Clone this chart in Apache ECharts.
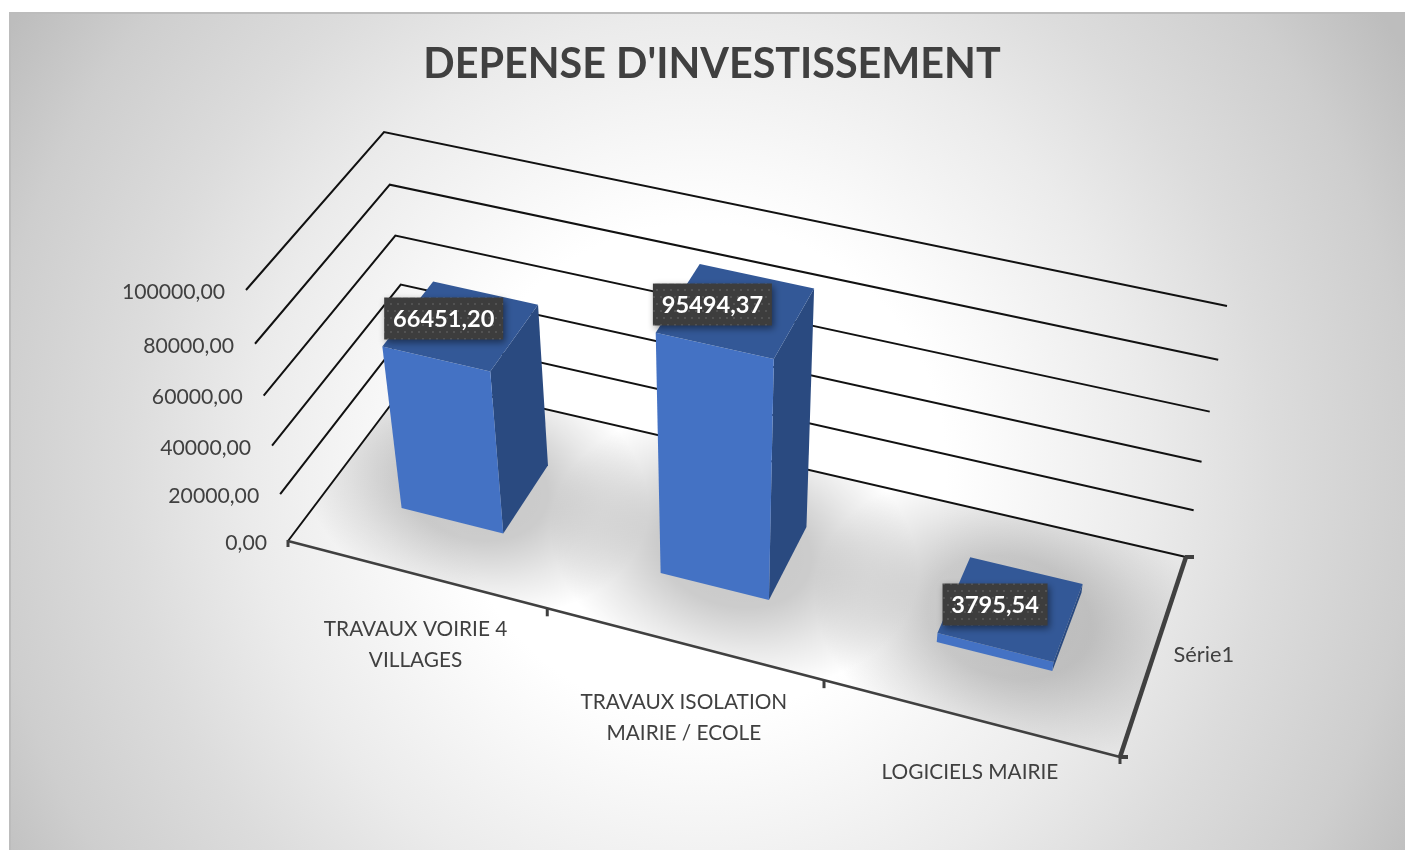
<!DOCTYPE html>
<html>
<head>
<meta charset="utf-8">
<style>
  html, body { margin: 0; padding: 0; background: #fff; }
  #chart { width: 1405px; height: 850px; }
</style>
<script src="https://cdn.jsdelivr.net/npm/echarts@6/dist/echarts.min.js"></script>
</head>
<body>
<div id="chart"></div>
<script>
const titleText = "DEPENSE D'INVESTISSEMENT"
const categories = ['TRAVAUX VOIRIE 4\nVILLAGES', 'TRAVAUX ISOLATION\nMAIRIE / ECOLE', 'LOGICIELS MAIRIE']
const seriesName = 'Série1'
const values = [66451.2, 95494.37, 3795.54]
const yTicks = [0, 20000, 40000, 60000, 80000, 100000]

const FONT = 'Lato'
const TEXT_COLOR = '#404040'

// camera: where the floor and the ceiling of the unit box land on the screen
const floorQuad = [[288, 541], [1120, 757], [1186, 557], [411, 378]]
const topQuad = [[246, 290], [1160, 498], [1227, 306], [384, 132]]
const HEIGHT_PERSPECTIVE = 1.09
const U_NUDGE = 0.018
const BAR_WIDTH = 0.4
const BAR_DEPTH = [0.3, 0.7]

// small hand offsets, excel places these a bit unevenly
const catLabelOffset = [[0, 40], [0.5, 43], [0.5, 39]]
const dataLabelOffset = [[-16.5, -7], [-22.5, -6], [-15, -4]]

function quadMap(q) {
  const [[x0, y0], [x1, y1], [x2, y2], [x3, y3]] = q
  const sx = x0 - x1 + x2 - x3
  const sy = y0 - y1 + y2 - y3
  const dx1 = x1 - x2, dx2 = x3 - x2, dy1 = y1 - y2, dy2 = y3 - y2
  const den = dx1 * dy2 - dx2 * dy1
  const g = (sx * dy2 - dx2 * sy) / den
  const h = (dx1 * sy - sx * dy1) / den
  const a = x1 - x0 + g * x1, b = x3 - x0 + h * x3
  const d = y1 - y0 + g * y1, e = y3 - y0 + h * y3
  return (u, v) => {
    const w = g * u + h * v + 1
    return [(a * u + b * v + x0) / w, (d * u + e * v + y0) / w]
  }
}
const floorMap = quadMap(floorQuad)
const topMap = quadMap(topQuad)

// u along the categories, d into the depth, h up the value axis, all 0..1
function project(u, d, h) {
  const s = h / (h + (1 - h) * HEIGHT_PERSPECTIVE)
  const a = floorMap(u + U_NUDGE * u * (1 - u), d)
  const b = topMap(u, d)
  return [a[0] + (b[0] - a[0]) * s, a[1] + (b[1] - a[1]) * s]
}

// read the axes of the hidden grid and turn them into box coordinates
function toBox(params, api, cat, val) {
  const sys = params.coordSys
  const p = api.coord([cat, val])
  return {
    u: (p[0] - sys.x) / sys.width,
    h: (sys.y + sys.height - p[1]) / sys.height,
    band: api.size([1, 0])[0] / sys.width
  }
}

function line(a, b, color, width) {
  return {
    type: 'line',
    shape: { x1: a[0], y1: a[1], x2: b[0], y2: b[1] },
    style: { stroke: color, lineWidth: width, lineCap: 'butt' }
  }
}

function label(text, x, y, opts) {
  return {
    type: 'text',
    style: Object.assign({
      text: text, x: x, y: y, fill: TEXT_COLOR, font: '20.8px ' + FONT,
      textAlign: 'center', textVerticalAlign: 'middle'
    }, opts)
  }
}

function fmt(v) {
  return v.toFixed(2).replace('.', ',')
}

function dotPattern() {
  const c = document.createElement('canvas')
  c.width = c.height = 14
  const ctx = c.getContext('2d')
  ctx.fillStyle = '#3d3d3d'
  ctx.fillRect(0, 0, 14, 14)
  ctx.fillStyle = '#525252'
  ;[[2, 2], [9, 2], [5, 9], [12, 9]].forEach(p => ctx.fillRect(p[0], p[1], 2, 2))
  return c
}
const labelFill = { image: dotPattern(), repeat: 'repeat' }

function renderWall(params, api) {
  const b = toBox(params, api, 0, api.value(1))
  const front = project(0, 0, b.h)
  const corner = project(0, 1, b.h)
  const end = project(1, 1, b.h)
  return {
    type: 'group',
    children: [
      {
        type: 'polyline',
        shape: { points: [front, corner, end] },
        style: { fill: null, stroke: '#111111', lineWidth: 2 }
      },
      label(fmt(api.value(1)), front[0] - 21, front[1] + 2, { textAlign: 'right', font: '21.2px ' + FONT })
    ]
  }
}

function renderShadow(params, api) {
  const b = toBox(params, api, api.value(0), 0)
  const dMid = (BAR_DEPTH[0] + BAR_DEPTH[1]) / 2
  const left = project(b.u - b.band / 2, dMid, 0)
  const right = project(b.u + b.band / 2, dMid, 0)
  const center = project(b.u, dMid, 0)
  const dx = right[0] - left[0], dy = right[1] - left[1]
  const rx = Math.sqrt(dx * dx + dy * dy) * 0.68
  return {
    type: 'group',
    clipPath: { type: 'polygon', shape: { points: floorQuad } },
    children: [{
      type: 'circle',
      x: center[0],
      y: center[1],
      rotation: -Math.atan2(dy, dx),
      scaleX: rx / 100,
      scaleY: rx * 0.72 / 100,
      shape: { cx: 0, cy: 0, r: 100 },
      style: {
        fill: new echarts.graphic.RadialGradient(0.5, 0.5, 0.5, [
          { offset: 0, color: 'rgba(0,0,0,0.22)' },
          { offset: 0.42, color: 'rgba(0,0,0,0.2)' },
          { offset: 0.72, color: 'rgba(0,0,0,0.09)' },
          { offset: 1, color: 'rgba(0,0,0,0)' }
        ])
      }
    }]
  }
}

function renderBar(params, api) {
  const i = api.value(0)
  const b = toBox(params, api, i, api.value(1))
  const u0 = b.u - b.band * BAR_WIDTH / 2
  const u1 = b.u + b.band * BAR_WIDTH / 2
  const d0 = BAR_DEPTH[0], d1 = BAR_DEPTH[1]
  const face = (pts, color) => ({ type: 'polygon', shape: { points: pts }, style: { fill: color } })
  const topFL = project(u0, d0, b.h), topFR = project(u1, d0, b.h)
  const topBR = project(u1, d1, b.h), topBL = project(u0, d1, b.h)
  const cx = (topFL[0] + topBR[0]) / 2 + dataLabelOffset[i][0]
  const cy = (topFL[1] + topBR[1]) / 2 + dataLabelOffset[i][1]
  const text = fmt(api.value(1))
  const w = text.length > 7 ? 119 : 105
  return {
    type: 'group',
    children: [
      face([project(u1, d0, 0), project(u1, d1, 0), topBR, topFR], '#2a4a80'),
      face([project(u0, d0, 0), project(u1, d0, 0), topFR, topFL], '#4472c4'),
      face([topFL, topFR, topBR, topBL], '#335897'),
      {
        type: 'rect',
        shape: { x: cx - w / 2, y: cy - 21, width: w, height: 42 },
        style: {
          fill: labelFill, shadowBlur: 7, shadowOffsetX: 2, shadowOffsetY: 3,
          shadowColor: 'rgba(0,0,0,0.45)'
        }
      },
      label(text, cx, cy + 1, { fill: '#ffffff', font: 'bold 23.6px ' + FONT })
    ]
  }
}

function renderCategory(params, api) {
  const i = api.value(0)
  const b = toBox(params, api, i, 0)
  const left = b.u - b.band / 2
  const mid = project(b.u, 0, 0)
  const tick = project(left, 0, 0)
  const children = [
    label(categories[i], mid[0] + catLabelOffset[i][0], mid[1] + catLabelOffset[i][1], {
      textVerticalAlign: 'top', lineHeight: 31
    })
  ]
  if (i > 0) {
    children.push(line(tick, [tick[0], tick[1] + 8], TEXT_COLOR, 3))
  }
  return { type: 'group', children: children }
}

function renderAxisFrame() {
  const A = project(0, 0, 0), B = project(1, 0, 0), C = project(1, 1, 0)
  const mid = project(1, 0.5, 0)
  return {
    type: 'group',
    children: [
      line(A, B, TEXT_COLOR, 2.5),
      line(B, C, TEXT_COLOR, 4.5),
      line([A[0], A[1] - 1], [A[0], A[1] + 6], TEXT_COLOR, 3),
      line([B[0] - 1, B[1]], [B[0] + 8, B[1]], TEXT_COLOR, 4),
      line([B[0], B[1] - 1], [B[0], B[1] + 7], TEXT_COLOR, 3),
      line([C[0] - 1, C[1]], [C[0] + 8, C[1]], TEXT_COLOR, 4),
      label(seriesName, mid[0] + 19, mid[1] + 2, { textAlign: 'left', font: '21.8px ' + FONT })
    ]
  }
}

const chart = echarts.init(document.getElementById('chart'))
const barData = values.map((v, i) => [i, v])

chart.setOption({
  animation: false,
  title: {
    text: titleText,
    left: 707,
    top: 39,
    textAlign: 'center',
    textStyle: { fontFamily: FONT, fontWeight: 'bold', fontSize: 41.3, color: TEXT_COLOR }
  },
  graphic: [{
    type: 'rect',
    z: -1,
    shape: { x: 10, y: 13, width: 1396, height: 838 },
    style: {
      stroke: '#bcbcbc',
      lineWidth: 2,
      fill: new echarts.graphic.RadialGradient(700, 470, 820, [
        { offset: 0, color: '#ffffff' },
        { offset: 0.3, color: '#ffffff' },
        { offset: 0.55, color: '#ebebeb' },
        { offset: 0.7, color: '#dcdcdc' },
        { offset: 0.87, color: '#cecece' },
        { offset: 1, color: '#bdbdbd' }
      ], true)
    }
  }],
  grid: { left: 100, right: 100, top: 100, bottom: 100 },
  xAxis: { type: 'category', data: categories, show: false },
  yAxis: { type: 'value', min: 0, max: 100000, interval: 20000, show: false },
  series: [
    {
      type: 'custom', z: 1, silent: true, renderItem: renderShadow,
      data: barData, encode: { x: 0, y: 1 }
    },
    {
      type: 'custom', z: 2, silent: true, renderItem: renderWall,
      data: yTicks.map(t => [0, t]), encode: { x: 0, y: 1 }
    },
    {
      type: 'custom', z: 3, silent: true, renderItem: renderCategory,
      data: categories.map((c, i) => [i, 0]), encode: { x: 0, y: 1 }
    },
    {
      type: 'custom', z: 3, silent: true, renderItem: renderAxisFrame,
      data: [[0, 0]], encode: { x: 0, y: 1 }
    },
    {
      type: 'custom', z: 4, silent: true, renderItem: renderBar,
      data: barData, encode: { x: 0, y: 1 }
    }
  ]
})
</script>
</body>
</html>
